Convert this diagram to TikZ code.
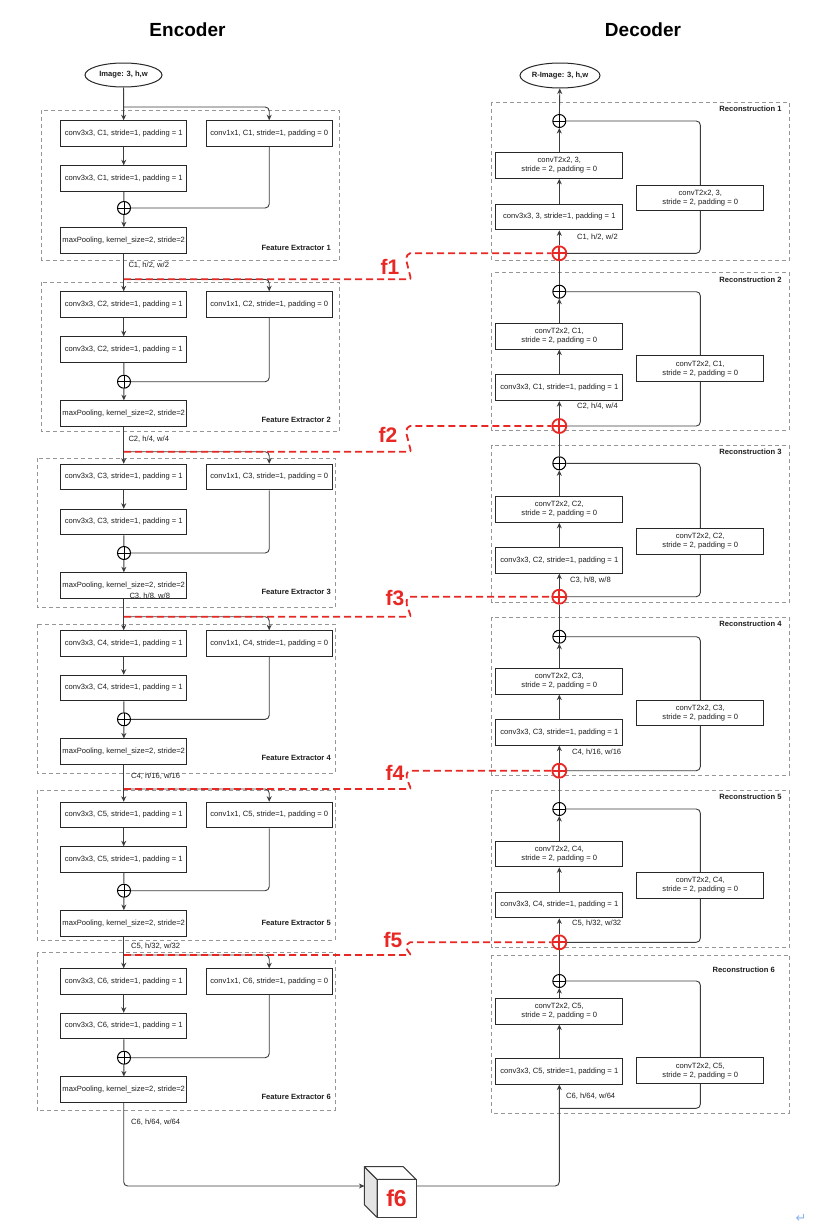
\documentclass[tikz,border=0pt]{standalone}
\usepackage{fontspec}
\setmainfont{Liberation Sans}
\newfontfamily\dejavufont{DejaVu Sans}
\usetikzlibrary{arrows.meta,shapes.geometric}
\definecolor{fred}{RGB}{232,40,36}
\definecolor{boxc}{RGB}{40,40,40}
\definecolor{wirec}{RGB}{60,60,60}
\definecolor{framec}{RGB}{150,150,150}
\definecolor{txt}{RGB}{30,30,30}
\definecolor{cubegray}{RGB}{228,228,228}
\definecolor{retc}{RGB}{140,180,240}
\begin{document}
\begin{tikzpicture}[x=1pt,y=-1pt,
 box/.style={draw=boxc, line width=1pt, fill=white, minimum height=25.5pt, minimum width=126pt, inner sep=1pt, font=\fontsize{7.6}{9.2}\selectfont, text=txt, align=center},
 plus/.style={circle, draw=black, line width=1pt, fill=white, minimum size=13pt, inner sep=0pt,
   path picture={\draw[black, line width=1pt] (path picture bounding box.north) -- (path picture bounding box.south) (path picture bounding box.west) -- (path picture bounding box.east);}},
 rplus/.style={circle, draw=fred, line width=1.8pt, fill=white, minimum size=14pt, inner sep=0pt,
   path picture={\draw[fred, line width=1.8pt] (path picture bounding box.north) -- (path picture bounding box.south) (path picture bounding box.west) -- (path picture bounding box.east);}},
 wire/.style={draw=wirec, line width=0.9pt, rounded corners=4pt},
 arr/.style={wire, -{Stealth[length=5.5pt,width=5pt]}},
 frame/.style={draw=framec, line width=0.8pt, dash pattern=on 4pt off 3pt},
 fline/.style={draw=fred, line width=1.8pt, dash pattern=on 7pt off 4pt, rounded corners=2pt},
 flab/.style={text=fred, font=\bfseries\fontsize{21}{21}\selectfont, inner sep=1pt},
 lab/.style={font=\fontsize{7.6}{9.2}\selectfont, text=txt, inner sep=0pt},
 blab/.style={lab, font=\bfseries\fontsize{7.6}{9.2}\selectfont},
 ell/.style={ellipse, draw=boxc, line width=1pt, fill=white, inner sep=0pt, font=\bfseries\fontsize{7.6}{9.2}\selectfont, text=txt},
 head/.style={font=\bfseries\fontsize{19}{22}\selectfont, text=black},
 cubeedge/.style={draw=wirec, line width=1pt, line join=round}
]
\fill[white] (0,0) rectangle (820,1226);
\useasboundingbox (0,0) rectangle (820,1226);

% headers
\node[head] (enc) at (187.5,30) {Encoder};
\node[head] (dec) at (643,30) {Decoder};

% ---------------- Encoder ----------------
\node[ell, minimum width=77pt, minimum height=24pt] (img) at (123.5,75) {\makebox[30pt]{Image: 3, h,w}};

\foreach \k/\yT/\yB/\ya/\yb/\yc/\ym/\yr/\xl/\xr/\yl/\p/\yC/\xC in {
 1/110/260/133.5/178.5/208/240.5/107/41.7/339.3/248/2/265.7/128.3,
 2/282.3/431.7/304.5/349.5/381.7/413.5/279.3/41.7/339.3/420/4/439.3/128.3,
 3/458.3/607.7/477/522/553/585.5/451.7/37.3/335/591.7/8/596.7/129.3,
 4/624/773/643.5/688/719.3/751.7/616.7/37.3/335/758.3/16/776.7/131,
 5/790/940/815/859.5/890.7/923.3/789/37.3/335/923.3/32/946/131,
 6/952.7/1110.7/981.5/1026/1057.7/1089.7/955/37.3/335/1096.7/64/1122.7/131}{
 \draw[frame] (\xl,\yT) rectangle (\xr,\yB);
 \node[blab, anchor=east] (fel\k) at (331,\yl) {Feature Extractor \k};
 \node[box] (ea\k) at (123.7,\ya) {conv3x3, C\k, stride=1, padding = 1};
 \node[box] (eb\k) at (123.7,\yb) {conv3x3, C\k, stride=1, padding = 1};
 \node[box] (ec\k) at (269.2,\ya) {conv1x1, C\k, stride=1, padding = 0};
 \node[plus] (ep\k) at (124,\yc) {};
 \node[box] (em\k) at (123.7,\ym) {maxPooling, kernel\_size=2, stride=2};
 \coordinate (eJ\k) at (124,\yr);
 \draw[arr] (ea\k) -- (eb\k);
 \draw[wire] (eb\k) -- (ep\k);
 \draw[arr] (ep\k) -- (em\k);
 \draw[arr] (eJ\k) -| (ec\k);
 \draw[wire] (ec\k) |- (ep\k);
 \node[lab, anchor=west] (ecl\k) at (\xC,\yC) {C\k, h/\p, w/\p};
}
\draw[arr] (img) -- (ea1);
\foreach \n/\m in {1/2,2/3,3/4,4/5,5/6} \draw[arr] (em\n) -- (ea\m);

% ---------------- Decoder ----------------
\node[ell, minimum width=80pt, minimum height=25pt] (rimg) at (560,75.5) {\makebox[30pt]{R-Image: 3, h,w}};

\foreach \k/\yT/\yB/\ytc/\yct/\ycc/\yrb/\yrc/\yl/\yC/\xC/\ch/\p/\xR in {
 1/102/260/121/165.5/217/198/253.3/109/237/577/3/2/781.7,
 2/272.7/430/291.7/336.3/387.8/368.8/426/279.3/406.7/577/C1/4/781.7,
 3/445/602.7/463.3/509.5/560.3/541.2/596.7/451.7/580/570/C2/8/781.7,
 4/617.3/775/636.7/681.3/732.3/713/770.7/624/752.3/572/C3/16/781.7,
 5/790/947.7/809/854/905/885.5/942.3/796.7/923.3/572/C4/32/781.7,
 6/955/1113.3/981/1011.2/1071.2/1070.8/1108.3/969.3/1096/566/C5/64/775}{
 \draw[frame] (491.7,\yT) rectangle (789.3,\yB);
 \node[blab, anchor=east] (drl\k) at (\xR,\yl) {Reconstruction \k};
 \node[plus] (dt\k) at (559.3,\ytc) {};
 \node[box, minimum width=126.7pt, minimum height=25.7pt] (dT\k) at (559.3,\yct) {convT2x2, \ch,\\ stride = 2, padding = 0};
 \node[box, minimum width=126.7pt, minimum height=25.7pt] (dc\k) at (559.3,\ycc) {conv3x3, \ch, stride=1, padding = 1};
 \ifnum\k<6
  \node[rplus] (dR\k) at (559.3,\yrc) {};
  \draw[arr] (dR\k) -- (dc\k);
 \else
  \coordinate (dR\k) at (559.3,\yrc);
 \fi
 \draw[arr] (dc\k) -- (dT\k);
 \draw[arr] (dT\k) -- (dt\k);
 \draw[wire] (dR\k) -- (700.3,\yrc) -- (700.3,\ytc) -- (dt\k);
 \node[box, minimum width=127.3pt, minimum height=25.7pt] (dr\k) at (700.3,\yrb) {convT2x2, \ch,\\ stride = 2, padding = 0};
 \node[lab, anchor=west] (dcl\k) at (\xC,\yC) {C\k, h/\p, w/\p};
}
\draw[arr] (dt1) -- (rimg);
\foreach \n/\m in {2/1,3/2,4/3,5/4,6/5} \draw[wire] (dt\n) -- (dR\m);

% ---------------- f connectors ----------------
\foreach \n/\m/\ye/\yd/\xf/\yf in {
 1/2/279.3/253.3/390/267,
 2/3/451.7/426/388/435,
 3/4/616.7/596.7/395/598,
 4/5/789/770.7/395/773,
 5/6/955/942.3/393/940}{
 \draw[fline] (eJ\m) -- (411,\ye) -- (406,\yd+6) -- (408,\yd) -- (dR\n);
 \node[flab] (fl\n) at (\xf,\yf) {f\n};
}

% ---------------- f6 cube ----------------
\coordinate (f6in) at (364.4,1186);
\coordinate (f6out) at (416,1186);
\draw[arr] (em6) |- (f6in);
\draw[arr] (f6out) -| (dc6);
\filldraw[cubeedge, fill=cubegray] (364.4,1166.7) -- (377,1179.3) -- (377,1217.3) -- (364.4,1204.7) -- cycle;
\filldraw[cubeedge, fill=white] (364.4,1166.7) -- (403.4,1166.7) -- (416,1179.3) -- (377,1179.3) -- cycle;
\node[draw=wirec, line width=1pt, fill=white, minimum width=39pt, minimum height=38pt, inner sep=0pt, text=fred, font=\bfseries\fontsize{23}{23}\selectfont] (f6) at (396.5,1198.3) {f6};

\node[text=retc, font=\dejavufont\fontsize{13}{13}\selectfont, inner sep=0pt] (ret) at (801,1218) {↵};
\end{tikzpicture}
\end{document}
